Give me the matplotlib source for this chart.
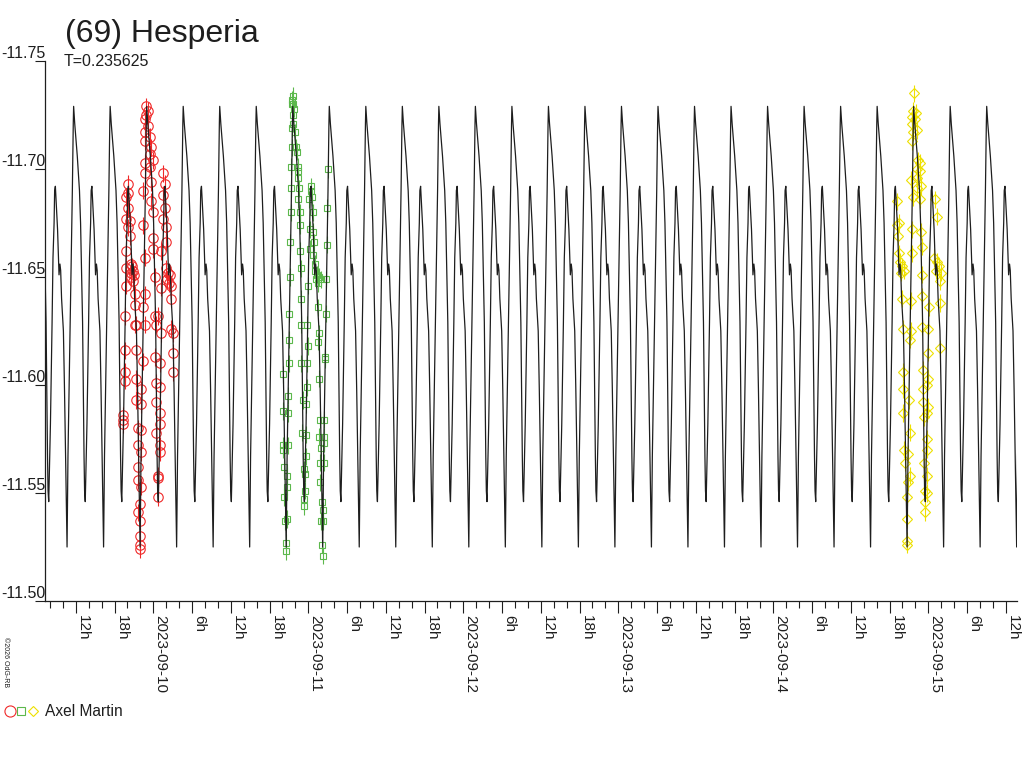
import numpy as np
import matplotlib.pyplot as plt
from matplotlib.lines import Line2D

plt.rcParams['font.family'] = ['Liberation Sans', 'DejaVu Sans']

# time axis: days from 2023-09-10 0h UT
period = 0.235625
epoch = -0.514          # a primary maximum

# one cycle of the model curve (phase 0 = primary max)
prof_phase = [0.00, 0.03, 0.10, 0.16, 0.19, 0.21, 0.23, 0.245, 0.255, 0.265, 0.275, 0.285,
              0.30, 0.318, 0.365, 0.41, 0.435, 0.465, 0.48, 0.50, 0.56, 0.60, 0.625, 0.645,
              0.67, 0.72, 0.75, 0.78, 0.82, 0.845, 0.89, 0.935, 0.965, 0.99]
prof_mag = [-11.729, -11.721, -11.706, -11.690, -11.675, -11.659, -11.644, -11.629, -11.613,
            -11.598, -11.582, -11.567, -11.551, -11.546, -11.582, -11.629, -11.659, -11.675,
            -11.690, -11.692, -11.672, -11.651, -11.656, -11.653, -11.640, -11.625, -11.598,
            -11.567, -11.525, -11.567, -11.613, -11.659, -11.690, -11.721]

# night 1 (red circles)
red_t = [-0.163, -0.163, -0.174, -0.163, -0.174, -0.152, -0.163, -0.152, -0.174, -0.174, -0.174,
         -0.120, -0.120, -0.185, -0.120,
         -0.147, -0.137, -0.131, -0.144, -0.125, -0.144, -0.131,
         -0.045, -0.034, -0.045, -0.056, -0.034, -0.056, -0.023, -0.056, -0.013, -0.023, -0.002,
         -0.056, -0.023, -0.056, -0.013, -0.067, -0.013, -0.002, -0.067, -0.002, -0.002, -0.056,
         0.009, -0.056, -0.067, 0.009, -0.056,
         0.063, 0.074, 0.063, 0.074, 0.063, 0.084, 0.084, 0.052,
         0.084, 0.095, 0.108, 0.088, 0.101, 0.114, 0.052, 0.116, 0.030, 0.116,
         -0.185, -0.185, -0.185, -0.196, -0.196, -0.196,
         -0.110, -0.110, -0.067, -0.110, -0.077, -0.110, -0.077, -0.099, -0.077, -0.099,
         -0.077, -0.099, -0.099, -0.077, -0.088, -0.099, -0.088, -0.088, -0.088, -0.088,
         0.019, 0.052, 0.009, 0.041, 0.019, 0.041, 0.019, 0.041, 0.041, 0.019, 0.041, 0.041,
         0.030, 0.030, 0.030,
         0.127, 0.127, 0.127]
red_mag = [-11.693, -11.689, -11.687, -11.682, -11.677, -11.676, -11.673, -11.669, -11.662, -11.654, -11.646,
           -11.642, -11.637, -11.632, -11.628,
           -11.656, -11.655, -11.653, -11.652, -11.651, -11.650, -11.648,
           -11.729, -11.727, -11.725, -11.723, -11.720, -11.717, -11.715, -11.713, -11.710, -11.707, -11.704,
           -11.703, -11.701, -11.698, -11.694, -11.690, -11.685, -11.680, -11.674, -11.668, -11.663, -11.659,
           -11.650, -11.642, -11.636, -11.632, -11.628,
           -11.698, -11.693, -11.688, -11.682, -11.677, -11.673, -11.666, -11.662,
           -11.654, -11.652, -11.651, -11.649, -11.647, -11.646, -11.645, -11.640, -11.632, -11.626,
           -11.616, -11.606, -11.602, -11.586, -11.584, -11.582,
           -11.628, -11.616, -11.611, -11.603, -11.598, -11.593, -11.591, -11.580, -11.579, -11.572,
           -11.569, -11.562, -11.556, -11.553, -11.545, -11.541, -11.537, -11.530, -11.526, -11.524,
           -11.628, -11.624, -11.613, -11.610, -11.601, -11.599, -11.592, -11.587, -11.582, -11.578, -11.572, -11.569,
           -11.558, -11.557, -11.548,
           -11.624, -11.615, -11.606]

# night 2 (green squares)
green_t = [0.899, 0.893, 0.903, 0.893, 0.908, 0.903, 0.903, 0.893, 0.914, 0.893, 0.921, 0.925,
           0.888, 0.932, 0.936, 0.932, 0.888, 0.942, 0.936, 0.887, 0.947, 0.947, 0.882, 0.947,
           0.882, 0.953, 0.951, 0.877, 0.955, 0.994, 0.876, 0.996, 0.874, 0.955, 0.992, 0.837,
           0.990, 0.867, 0.964, 0.985, 0.835, 0.869, 0.959, 0.985, 0.839, 0.869, 0.839, 0.845,
           0.985, 0.865, 0.970, 0.979, 0.865, 0.845, 0.979, 0.970, 0.970, 0.861, 0.852, 0.854, 0.854,
           1.017, 1.016, 1.026, 1.007, 1.028, 1.011, 1.032, 1.035, 1.011, 1.032, 1.043, 1.043,
           1.056, 1.069, 1.050, 1.082, 1.063, 1.000, 1.065, 1.071, 1.065, 1.071, 1.076, 1.103,
           1.071, 1.103, 1.080, 1.103, 1.077, 1.103, 1.077, 1.088, 1.095, 1.084, 1.093, 1.087, 1.095,
           1.127, 1.121, 1.119, 1.114, 1.114, 1.110, 1.106]
green_mag = [-11.734, -11.732, -11.730, -11.730, -11.728, -11.725, -11.721, -11.719, -11.717, -11.710, -11.710, -11.708,
             -11.701, -11.701, -11.699, -11.696, -11.691, -11.691, -11.686, -11.680, -11.680, -11.674, -11.666, -11.662,
             -11.650, -11.654, -11.640, -11.633, -11.628, -11.628, -11.621, -11.618, -11.610, -11.610, -11.610, -11.605,
             -11.599, -11.595, -11.593, -11.591, -11.588, -11.587, -11.578, -11.577, -11.572, -11.572, -11.570, -11.562,
             -11.567, -11.558, -11.561, -11.559, -11.553, -11.548, -11.551, -11.547, -11.544, -11.538, -11.537, -11.527, -11.523,
             -11.692, -11.690, -11.687, -11.686, -11.680, -11.672, -11.671, -11.666, -11.663, -11.660, -11.656, -11.653,
             -11.651, -11.650, -11.649, -11.649, -11.647, -11.646, -11.636, -11.624, -11.620, -11.603, -11.584, -11.584,
             -11.576, -11.576, -11.571, -11.573, -11.564, -11.564, -11.555, -11.546, -11.542, -11.537, -11.537, -11.526, -11.521,
             -11.700, -11.682, -11.665, -11.649, -11.633, -11.613, -11.612]

# night 3 (yellow diamonds)
yellow_t = [4.910, 4.903, 4.921, 4.893, 4.914, 4.893, 4.925, 4.899, 4.893, 4.936, 4.947, 4.925, 4.947, 4.929, 4.887,
            4.951, 4.925, 4.899, 4.947, 4.800, 5.043, 5.054, 4.811, 4.800, 4.893, 4.953, 4.807, 4.957, 4.893, 4.813,
            4.819, 4.832, 4.845, 4.826, 5.037, 5.056, 5.069, 5.050, 5.082,
            5.076, 4.957, 4.832, 4.887, 4.961, 5.076, 5.007, 4.835, 4.887, 4.961, 5.000, 4.882, 5.000, 5.076, 4.839,
            4.964, 5.000, 4.990, 4.839, 4.964, 4.877, 4.968, 4.996, 4.839, 4.990, 4.972, 4.882, 4.994, 4.843, 4.870,
            4.990, 4.850, 4.972, 4.990, 4.882, 4.871, 4.861, 4.979, 4.990, 4.979, 4.979, 4.861, 4.861, 4.861]
yellow_mag = [-11.735, -11.727, -11.726, -11.724, -11.723, -11.721, -11.718, -11.717, -11.713, -11.704, -11.703, -11.700,
              -11.699, -11.696, -11.695, -11.692, -11.691, -11.687, -11.686, -11.685, -11.686, -11.678, -11.675, -11.674,
              -11.672, -11.671, -11.669, -11.664, -11.661, -11.661,
              -11.657, -11.655, -11.653, -11.652, -11.659, -11.657, -11.655, -11.653, -11.652,
              -11.648, -11.651, -11.640, -11.639, -11.641, -11.638, -11.636, -11.626, -11.625, -11.627, -11.626, -11.621,
              -11.615, -11.617, -11.606, -11.607, -11.603, -11.600, -11.598, -11.598, -11.593, -11.592, -11.590, -11.587,
              -11.587, -11.585, -11.578, -11.575, -11.570, -11.568, -11.570, -11.564, -11.564, -11.558, -11.558, -11.555,
              -11.548, -11.551, -11.550, -11.546, -11.541, -11.538, -11.528, -11.526]

mag_err = 0.004

y_ticks = [-11.75, -11.70, -11.65, -11.60, -11.55, -11.50]
y_labels = ['-11.75', '-11.70', '-11.65', '-11.60', '-11.55', '-11.50']

RED = '#f02828'
GREEN = '#5cb84c'
YELLOW = '#eee000'

fig = plt.figure(figsize=(10.24, 7.68), dpi=100)
ax = fig.add_axes([45 / 1024, 1 - 601 / 768, (1017.3 - 45) / 1024, 540 / 768])

# model curve, the read cycle repeated with period T
ncyc = np.arange(-2, 27)
curve_t = (epoch + (ncyc[:, None] + np.array(prof_phase)[None, :]) * period).ravel()
curve_m = np.tile(prof_mag, len(ncyc))
ax.plot(curve_t, curve_m, color='#1e1e1e', lw=0.9, zorder=3)

ax.errorbar(red_t, red_mag, yerr=mag_err, fmt='o', ms=6.8, mfc='none', mec=RED, mew=0.8,
            ecolor=RED, elinewidth=0.8, capsize=0, zorder=2)
ax.errorbar(green_t, green_mag, yerr=mag_err, fmt='s', ms=5, mfc='none', mec=GREEN, mew=0.8,
            ecolor=GREEN, elinewidth=0.8, capsize=0, zorder=2)
ax.errorbar(yellow_t, yellow_mag, yerr=mag_err, fmt='D', ms=4.7, mfc='none', mec=YELLOW, mew=0.8,
            ecolor=YELLOW, elinewidth=0.8, capsize=0, zorder=2)

ax.set_xlim(-0.6987, 5.574)
ax.set_ylim(-11.50, -11.75)

for s in ['top', 'right']:
    ax.spines[s].set_visible(False)
for s in ['left', 'bottom']:
    ax.spines[s].set_linewidth(0.9)
    ax.spines[s].set_color('#1e1e1e')

ax.set_yticks(y_ticks, y_labels, va='bottom', fontsize=11.5)
ax.tick_params(axis='y', direction='out', length=7.2, width=0.8, pad=-7.2, colors='#1e1e1e')

# x ticks: every 2 h, labelled every 6 h
major = np.arange(-0.5, 5.6, 0.25)
xlabels = []
for d in major:
    day = int(np.floor(d + 1e-6))
    h = int(round((d - day) * 24))
    xlabels.append('2023-09-%02d' % (10 + day) if h == 0 else '%dh' % h)
ax.set_xticks(major, xlabels, rotation=270, ha='left', va='top', fontsize=11)
ax.set_xticks(np.arange(-8, 67) / 12.0, minor=True)
ax.tick_params(axis='x', which='major', direction='out', length=8.6, width=0.8, pad=1.5, colors='#1e1e1e')
ax.tick_params(axis='x', which='minor', direction='out', length=5.0, width=0.8, colors='#1e1e1e')

fig.text(65 / 1024, 1 - 42 / 768, '(69) Hesperia', fontsize=23, color='#1e1e1e', va='baseline')
fig.text(64 / 1024, 1 - 66 / 768, 'T=0.235625', fontsize=11.5, color='#1e1e1e', va='baseline')
fig.text(5 / 1024, 1 - 637 / 768, '\u00a92026 OdG-RB', fontsize=5, rotation=270,
         ha='center', va='top', color='#1e1e1e')

# legend row
ly = 1 - 711 / 768
fig.add_artist(Line2D([10 / 1024], [ly], marker='o', ms=8, mfc='none', mec=RED, mew=0.8,
                      transform=fig.transFigure))
fig.add_artist(Line2D([21 / 1024], [ly], marker='s', ms=5.5, mfc='none', mec=GREEN, mew=0.8,
                      transform=fig.transFigure))
fig.add_artist(Line2D([33 / 1024], [ly], marker='D', ms=4.6, mfc='none', mec=YELLOW, mew=0.8,
                      transform=fig.transFigure))
fig.text(45 / 1024, 1 - 716 / 768, 'Axel Martin', fontsize=11.2, color='#1e1e1e', va='baseline')

fig.savefig('out.png', dpi=100)
